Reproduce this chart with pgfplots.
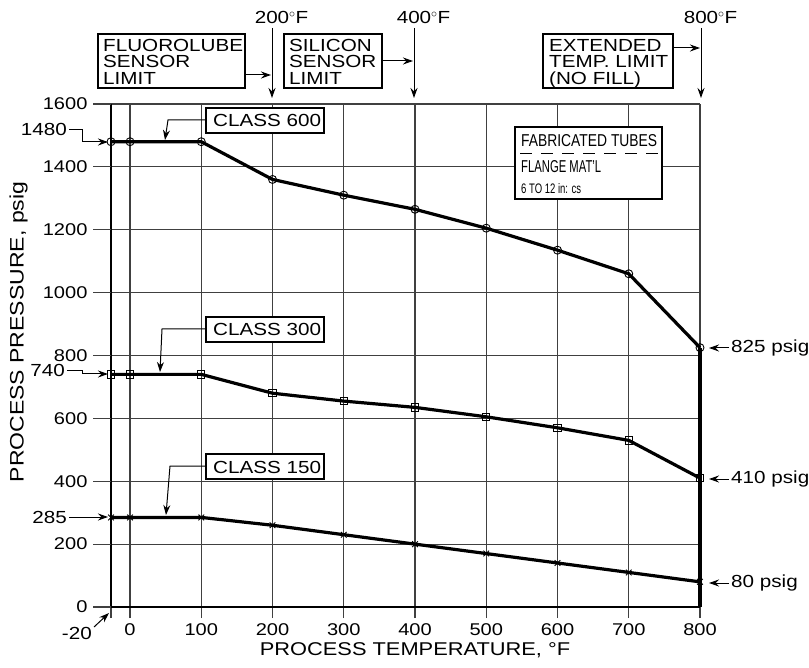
\documentclass[border=0pt]{standalone}
\usepackage{fontspec}
\setmainfont{Liberation Sans}[FakeStretch=1.18]
\usepackage{graphicx}
\usepackage{pgfplots}
\usepackage{pgfplotstable}
\pgfplotsset{compat=1.18}
\usetikzlibrary{arrows.meta}

% Allowable pressure (psig) versus process temperature (deg F)
\pgfplotstableread{
t p
-20 1480
0 1480
100 1480
200 1360
300 1310
400 1265
500 1205
600 1135
700 1060
800 825
}\classsixhundred
\pgfplotstableread{
t p
-20 740
0 740
100 740
200 680
300 655
400 635
500 605
600 570
700 530
800 410
}\classthreehundred
\pgfplotstableread{
t p
-20 285
0 285
100 285
200 260
300 230
400 200
500 170
600 140
700 110
800 80
}\classonefifty

\tikzset{
  arr/.style={line width=1pt, -{Stealth[length=10pt,width=7pt]}},
  lbl/.style={draw, line width=1.3pt, fill=white},
}

\begin{document}
\begin{tikzpicture}[font=\fontsize{17.5}{17.5}\selectfont]
\path[use as bounding box] (0pt,0pt) rectangle (809pt,-668pt);

\begin{axis}[
  at={(111pt,-607pt)}, anchor=south west,
  scale only axis, width=589pt, height=503pt,
  xmin=-20, xmax=800, ymin=0, ymax=1600,
  x coord trafo/.code={\pgfmathparse{(#1<0)*1.335*#1+(#1>=0)*#1}},
  x coord inv trafo/.code={\pgfmathparse{(#1<0)*#1/1.335+(#1>=0)*#1}},
  xtick={-20,0,100,200,300,400,500,600,700,800},
  xticklabels={,0,100,200,300,400,500,600,700,800},
  ytick={0,200,400,600,800,1000,1200,1400,1600},
  yticklabels={0,200,400,600,800,1000,1200,1400,1600},
  grid=major,
  grid style={line width=1.1pt, black!75},
  axis x line*=bottom, axis y line*=left,
  axis line style={-, line width=2.6pt, black},
  tick align=outside, major tick length=11pt,
  tick style={line width=1.1pt, black!75},
  ticklabel style={font=\fontsize{17}{17}\selectfont},
  yticklabel style={xshift=-9pt},
  xticklabel style={yshift=-2pt},
  clip=false,
]
\addplot[line width=3.2pt, black, mark=o, mark size=4pt,
  mark options={line width=0.9pt, solid, fill=white}]
  table[x=t, y=p] {\classsixhundred};
\addplot[line width=3.2pt, black, mark=square, mark size=3.6pt,
  mark options={line width=0.9pt, solid, fill=white}]
  table[x=t, y=p] {\classthreehundred};
\addplot[line width=3.2pt, black, mark=x, mark size=4pt,
  mark options={line width=0.9pt, solid}]
  table[x=t, y=p] {\classonefifty};
% extended temperature limit
\addplot[line width=3.8pt, black] coordinates {(800,0) (800,825)};
\end{axis}

\begin{scope}[x=1pt, y=-1pt]
% outer part of the pressure ticks
\foreach \v in {0,1,...,8}
  \draw[line width=1.1pt, black!75] (93,{607-\v*62.875}) -- (111,{607-\v*62.875});

% temperature markers along the top
\node[anchor=base] at (272,24) {\phantom{$^\circ$F}200$^\circ$F};
\node[anchor=base] at (414,24) {\phantom{$^\circ$F}400$^\circ$F};
\node[anchor=base] at (701,24) {\phantom{$^\circ$F}800$^\circ$F};
\draw[arr] (272,28) -- (272,98);
\draw[arr] (414,28) -- (414,98);
\draw[arr] (701,28) -- (701,98);

% sensor limit boxes
\draw[lbl] (98,34) rectangle (245,88);
\node[anchor=base west, inner sep=0pt] at (103,52) {FLUOROLUBE};
\node[anchor=base west, inner sep=0pt] at (103,68) {SENSOR};
\node[anchor=base west, inner sep=0pt] at (103,85) {LIMIT};
\draw[arr] (245,75) -- (271,75);

\draw[lbl] (284,34) rectangle (382,88);
\node[anchor=base west, inner sep=0pt] at (289,52) {SILICON};
\node[anchor=base west, inner sep=0pt] at (289,68) {SENSOR};
\node[anchor=base west, inner sep=0pt] at (289,85) {LIMIT};
\draw[arr] (382,61) -- (413,61);

\draw[lbl] (543,34) rectangle (673,88);
\node[anchor=base west, inner sep=0pt] at (549,52) {EXTENDED};
\node[anchor=base west, inner sep=0pt] at (549,68) {TEMP. LIMIT};
\node[anchor=base west, inner sep=0pt] at (549,85) {(NO FILL)};
\draw[arr] (673,48) -- (700,48);

% flange material note
\draw[lbl] (515,127) rectangle (662,199);
\node[anchor=base west, inner sep=0pt] at (521,147) {\resizebox{136pt}{12pt}{FABRICATED TUBES}};
\draw[line width=1pt, dash pattern=on 12pt off 9pt] (520,154) -- (659,154);
\node[anchor=base west, inner sep=0pt] at (521,173) {\resizebox{80pt}{12pt}{FLANGE MAT'L}};
\node[anchor=base west, inner sep=0pt] at (521,194) {\resizebox{60pt}{10pt}{6 TO 12 in: cs}};

% class labels
\draw[lbl] (206,108) rectangle (324,133);
\node[anchor=base west, inner sep=0pt] at (213,127) {CLASS 600};
\draw[arr] (206,120) -- (168,120) -- (165,140);

\draw[lbl] (206,317) rectangle (324,342);
\node[anchor=base west, inner sep=0pt] at (213,336) {CLASS 300};
\draw[arr] (206,329) -- (162,329) -- (160,372);

\draw[lbl] (206,454) rectangle (324,479);
\node[anchor=base west, inner sep=0pt] at (213,473) {CLASS 150};
\draw[arr] (206,466) -- (170,466) -- (166,515);

% rated pressures at the left
\node[anchor=base east, inner sep=0pt] at (67,136) {1480};
\draw[arr] (69,130) -- (82,130) -- (82,142) -- (108,142);
\node[anchor=base east, inner sep=0pt] at (65,377) {740};
\draw[arr] (67,371) -- (82,371) -- (82,374) -- (108,374);
\node[anchor=base east, inner sep=0pt] at (67,523) {285};
\draw[arr] (69,517) -- (108,517);

% pressures at 800 deg F
\draw[arr] (729,348) -- (709,348);
\node[anchor=west, inner sep=0pt] at (731,348) {825 psig};
\draw[arr] (729,479) -- (709,479);
\node[anchor=west, inner sep=0pt] at (731,479) {410 psig};
\draw[arr] (729,583) -- (709,583);
\node[anchor=west, inner sep=0pt] at (731,583) {80 psig};

% lowest temperature
\node[anchor=base east, inner sep=0pt] at (92,639) {-20};
\draw[arr] (94,627) -- (109,613);

% axis titles
\node[rotate=90, font=\fontsize{19.5}{19.5}\selectfont] at (18.5,332) {PROCESS PRESSURE, psig};
\node[font=\fontsize{18.5}{18.5}\selectfont] at (415,650) {PROCESS TEMPERATURE, °F};
\end{scope}
\end{tikzpicture}
\end{document}
